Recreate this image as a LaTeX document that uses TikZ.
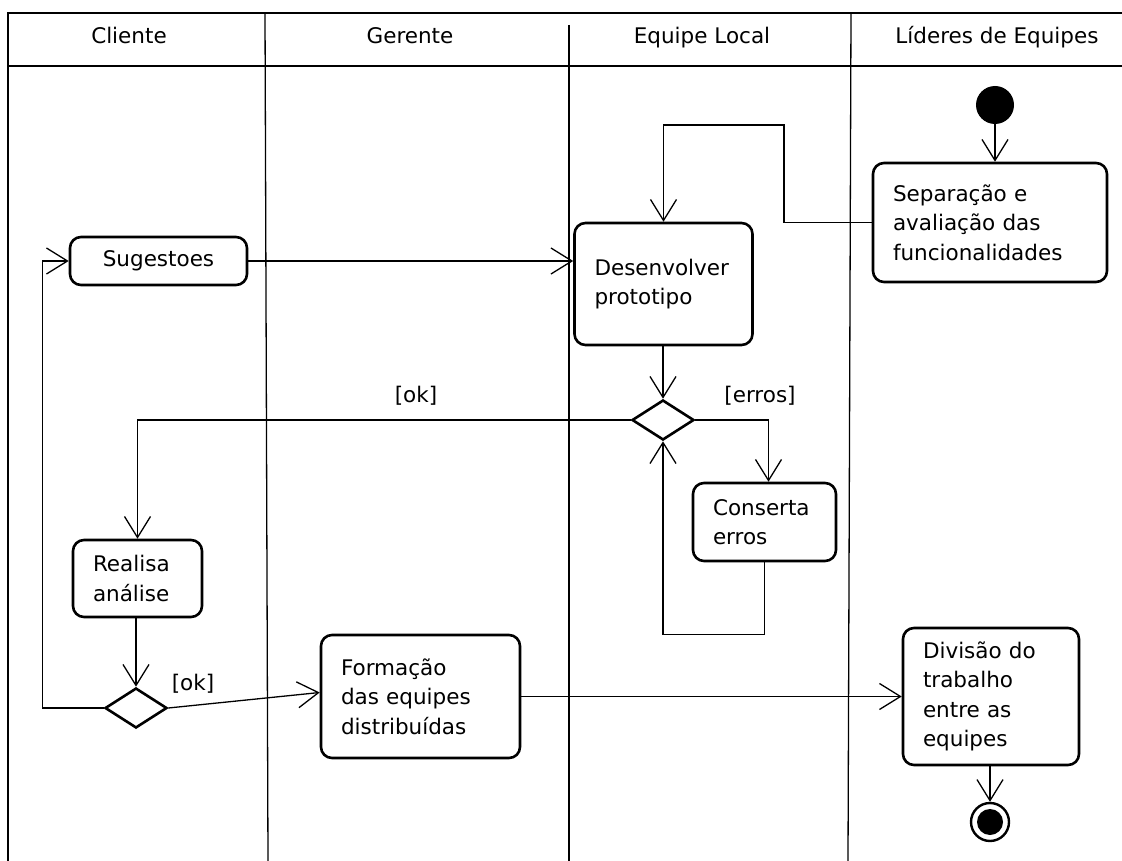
\documentclass[tikz,border=0pt]{standalone}
\usepackage{fontspec}
\setmainfont{DejaVu Sans}
\usetikzlibrary{arrows.meta,shapes.geometric}
\begin{document}
\begin{tikzpicture}[x=1pt,y=-1pt,
  lane/.style={line width=1.3pt},
  act/.style={draw,line width=2.6pt,rounded corners=11pt,align=left,
    inner xsep=20pt,inner ysep=0pt,font=\fontsize{21.5}{29.5}\selectfont},
  decision/.style={draw,diamond,line width=2.6pt,inner sep=0pt,
    minimum width=62pt,minimum height=40pt},
  flow/.style={line width=1.3pt,-{Straight Barb[length=21pt,width=26pt]}},
  guard/.style={font=\fontsize{21.5}{26}\selectfont,inner sep=0pt},
  lanehead/.style={font=\fontsize{21.5}{26}\selectfont,anchor=base,inner sep=0pt}
]
\useasboundingbox (0,0) rectangle (1122,861);

% swimlane frame
\draw[lane] (1122,13) -- (8,13) -- (8,861);
\draw[line width=2pt] (8,66) -- (1122,66);
\draw[lane] (265,13) -- (268,861);
\draw[lane] (569,25) -- (569,861);
\draw[lane] (851,13) -- (848,861);

\node[lanehead] (hcli) at (129,44) {Cliente};
\node[lanehead] (hger) at (410,44) {Gerente};
\node[lanehead] (hloc) at (702,44) {Equipe Local};
\node[lanehead] (hlid) at (997,44) {Líderes de Equipes};

% activities
\node[act,align=center,text width=137pt,minimum height=48pt] (sug) at (158.5,261) {Sugestoes};
\node[act,text width=138pt,minimum height=122pt] (dev) at (663.5,284) {Desenvolver\\prototipo};
\node[act,text width=194pt,minimum height=119pt] (sep) at (990,222.5) {Separação e\\avaliação das\\funcionalidades};
\node[act,text width=103pt,minimum height=78pt] (fix) at (764.5,522) {Conserta\\erros};
\node[act,text width=89pt,minimum height=77pt] (ana) at (137.5,578.5) {Realisa\\análise};
\node[act,text width=159pt,minimum height=123pt] (form) at (420.5,696.5) {Formação\\das equipes\\distribuídas};
\node[act,text width=136pt,minimum height=137pt] (div) at (991,696.5) {Divisão do\\trabalho\\entre as\\equipes};

% decisions
\node[decision] (d1) at (663,420) {};
\node[decision] (d2) at (136,708) {};

% initial and final states
\node[circle,fill=black,minimum size=38pt,inner sep=0pt] (start) at (995,105) {};
\node[circle,draw,line width=2.4pt,minimum size=38pt,inner sep=0pt] (end) at (990,822) {};
\fill (end.center) circle (13pt);

% guards
\node[guard] (gok1) at (416,396) {[ok]};
\node[guard] (gerr) at (760,396) {[erros]};
\node[guard] (gok2) at (193,684) {[ok]};

% control flow
\draw[flow] (start.south) -- (start.south |- sep.north);
\coordinate (k1) at (784,125);
\draw[flow] (sep.west) -| (k1) -| (dev.north);
\draw[flow] (sug.east) -- (sug.east -| dev.west);
\draw[flow] (dev.south -| d1.north) -- (d1.north);
\draw[flow] (d1.east) -| ([xshift=4pt]fix.north);
\draw[flow] (fix.south) -- ++(0,72) -| (d1.south);
\draw[flow] (d1.west) -| (ana.north);
\draw[flow] (ana.south -| d2.north) -- (d2.north);
\draw[flow] (d2.west) -- ++(-61,0) |- (sug.west);
\draw[flow] (d2.east) -- ([yshift=4pt]form.west);
\draw[flow] (form.east) -- (form.east -| div.west);
\draw[flow] (div.south -| end.north) -- (end.north);
\end{tikzpicture}
\end{document}
